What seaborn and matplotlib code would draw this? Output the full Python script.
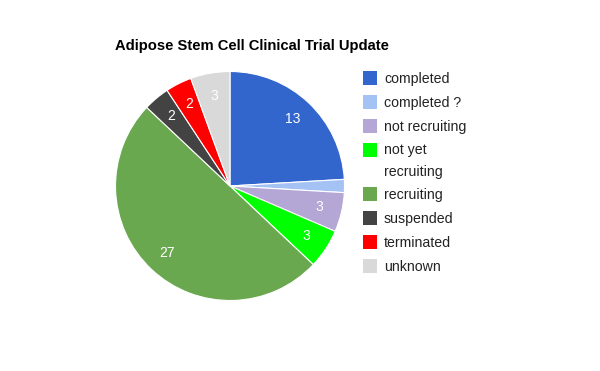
import matplotlib
matplotlib.use("Agg")
import matplotlib.pyplot as plt
import seaborn as sns
from matplotlib.patches import Rectangle

categories = ["completed", "completed ?", "not recruiting", "not yet recruiting",
              "recruiting", "suspended", "terminated", "unknown"]
legend_labels = ["completed", "completed ?", "not recruiting", "not yet\nrecruiting",
                 "recruiting", "suspended", "terminated", "unknown"]
counts = [13, 1, 3, 3, 27, 2, 2, 3]
colors = ["#3366cc", "#a4c2f4", "#b4a7d6", "#00ff00",
          "#6aa84f", "#434343", "#ff0000", "#d9d9d9"]
title = "Adipose Stem Cell Clinical Trial Update"

sns.set_theme(style="white")
plt.rcParams["font.family"] = ["Liberation Sans", "DejaVu Sans"]
palette = sns.color_palette(colors)

W, H = 600, 371
fig = plt.figure(figsize=(6, 3.71), dpi=100)
fig.patch.set_facecolor("white")

cx, cy, r = 230, 186, 114.5
ax = fig.add_axes([(cx - r) / W, 1 - (cy + r) / H, 2 * r / W, 2 * r / H])

total = sum(counts)

def fmt(p):
    v = int(round(p * total / 100.0))
    return "" if v < 2 else str(v)

wedges, texts, autotexts = ax.pie(
    counts, colors=palette, startangle=90, counterclock=False,
    autopct=fmt, pctdistance=0.8, radius=1,
    wedgeprops=dict(edgecolor="white", linewidth=0.8),
    textprops=dict(color="white", fontsize=10))
ax.set_xlim(-1, 1)
ax.set_ylim(-1, 1)
ax.set_aspect("equal")
ax.axis("off")

fig.text(115 / W, 1 - 50 / H, title, fontsize=10.6, fontweight="bold",
         color="black", va="baseline", ha="left")

# legend
ys = [78, 102, 126, 150, 194, 218, 242, 266]
for lab, col, y in zip(legend_labels, palette, ys):
    fig.patches.append(Rectangle(((363) / W, 1 - (y + 7) / H), 14 / W, 14 / H,
                                 transform=fig.transFigure, facecolor=col,
                                 edgecolor="none"))
    if "\n" in lab:
        fig.text(384 / W, 1 - (150 - 7) / H, lab, fontsize=10.2, color="#222222",
                 va="top", ha="left", linespacing=1.7)
    else:
        fig.text(384 / W, 1 - (y + 1) / H, lab, fontsize=10.2, color="#222222",
                 va="center", ha="left")

fig.savefig("out.png", dpi=100, facecolor="white")
